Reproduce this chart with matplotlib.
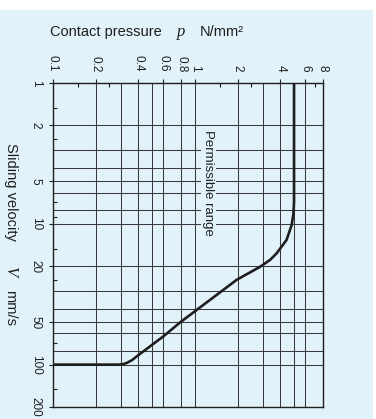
import matplotlib.pyplot as plt
from matplotlib.patches import Rectangle

# curve: permissible limit
pressure = [0.1, 0.29, 0.31, 0.33, 0.36, 0.41, 0.6, 0.79, 1.97, 2.88, 3.4, 3.77, 4.43, 4.81, 4.95, 5.0, 5.0]
velocity = [100, 100, 99.3, 97.5, 93, 84, 63, 50, 25, 20.2, 18, 16.2, 13, 10.2, 8.5, 7, 1]

# axis ticks and grid
p_ticks = [0.1, 0.2, 0.4, 0.6, 0.8, 1, 2, 4, 6, 8]
p_labels = ['0.1', '0.2', '0.4', '0.6', '0.8', '1', '2', '4', '6', '8']
p_minor = [0.15, 0.25, 1.5, 2.5, 7]
p_grid = [0.2, 0.3, 0.4, 0.5, 0.6, 0.8, 1, 2, 3, 4, 5, 6]

v_ticks = [1, 2, 5, 10, 20, 50, 100, 200]
v_labels = ['1', '2', '5', '10', '20', '50', '100', '200']
v_minor = [1.5, 2.5, 7, 9, 15, 25, 70, 150]
v_grid = [2, 3, 4, 5, 6, 8, 10, 20, 30, 40, 50, 60, 80, 100]

bg = '#e1f2fa'
W, H = 376, 419

fig = plt.figure(figsize=(W / 100, H / 100), dpi=100, facecolor='white')
fig.patches.append(Rectangle((0, 0), 373 / W, 409 / H, transform=fig.transFigure,
                             facecolor=bg, edgecolor='none', zorder=-10))

ax = fig.add_axes([53 / W, 1 - 407 / H, 270 / W, 324 / H])
ax.set_facecolor(bg)
ax.set_xscale('log')
ax.set_yscale('log')
ax.set_xlim(0.1, 8)
ax.set_ylim(200, 1)

for p in p_grid:
    ax.axvline(p, color='#3a3a3a', lw=0.75, zorder=1)
for v in v_grid:
    ax.axhline(v, color='#3a3a3a', lw=0.75, zorder=1)

ax.plot(pressure, velocity, color='#1e1e1e', lw=1.9, zorder=3, solid_capstyle='butt')

ax.xaxis.tick_top()
ax.set_xticks(p_ticks)
ax.set_xticklabels(p_labels, rotation=-90)
ax.set_xticks(p_minor, minor=True)
ax.set_xticklabels([], minor=True)
ax.set_yticks(v_ticks)
ax.set_yticklabels(v_labels, rotation=-90, va='center')
ax.set_yticks(v_minor, minor=True)
ax.set_yticklabels([], minor=True)

ax.tick_params(which='major', direction='out', length=3, width=0.8, pad=5,
               labelsize=8.5, colors='#1e1e1e')
ax.tick_params(which='minor', direction='in', length=3, width=0.8, colors='#1e1e1e')
for lab in ax.get_xticklabels() + ax.get_yticklabels():
    lab.set_fontfamily('Liberation Sans')

for s in ax.spines.values():
    s.set_linewidth(1.0)
    s.set_color('#1e1e1e')

ax.text(1.24, 5.1, 'Permissible range', rotation=-90, ha='center', va='center',
        fontsize=9.5, family='Liberation Sans', color='#1e1e1e', zorder=2,
        bbox=dict(facecolor=bg, edgecolor='none', pad=1))

# top title
ty = 1 - 36 / H
fig.text(50 / W, ty, 'Contact pressure', fontsize=10.5, family='Liberation Sans',
         va='baseline', color='#1e1e1e')
fig.text(177 / W, ty, 'p', fontsize=12, family='Liberation Serif', style='italic',
         va='baseline', color='#1e1e1e')
fig.text(200 / W, ty, 'N/mm²', fontsize=10.5, family='Liberation Sans',
         va='baseline', color='#1e1e1e')

# left label, rotated
lx = 6.5 / W
fig.text(lx, 1 - 143 / H, 'Sliding velocity', fontsize=10.5, family='Liberation Sans',
         rotation=-90, rotation_mode='anchor', ha='left', va='baseline', color='#1e1e1e')
fig.text(lx, 1 - 266 / H, 'V', fontsize=12, family='Liberation Serif', style='italic',
         rotation=-90, rotation_mode='anchor', ha='left', va='baseline', color='#1e1e1e')
fig.text(lx, 1 - 290 / H, 'mm/s', fontsize=10.5, family='Liberation Sans',
         rotation=-90, rotation_mode='anchor', ha='left', va='baseline', color='#1e1e1e')

fig.savefig('out.png', dpi=100, facecolor='white')
